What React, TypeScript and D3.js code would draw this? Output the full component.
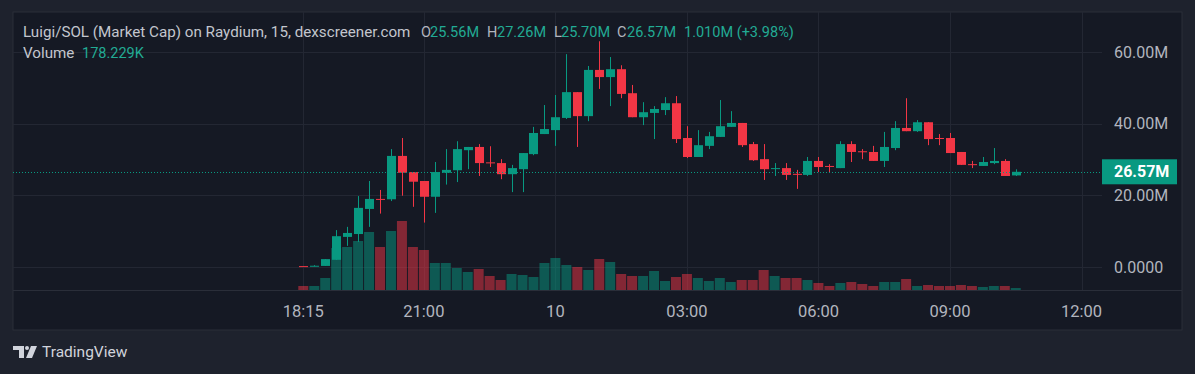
import React from 'react';
import * as d3 from 'd3';

// 15 minute candles, market cap in millions
const opens = [0.25, 0.2, 0.3, 2.0, 8.4, 9.2, 16.2, 19.0, 18.9, 31.0, 26.5, 24.0, 19.6, 26.3, 27.0, 32.6, 33.5, 29.2, 29.0, 25.9,
  27.3, 31.5, 37.1, 38.2, 41.6, 48.8, 42.1, 55.0, 53.0, 55.2, 48.5, 41.8, 43.0, 43.8, 45.7, 36.0, 30.7, 33.8, 36.3, 39.1,
  40.2, 34.3, 30.1, 27.5, 27.6, 26.0, 25.7, 29.6, 28.2, 27.6, 34.3, 32.3, 32.1, 29.6, 33.2, 38.8, 37.9, 40.4, 36.0, 36.0,
  32.1, 28.7, 28.2, 29.0, 29.6, 25.56];
const highs = [0.25, 0.5, 2.2, 10.3, 11.2, 19.8, 24.0, 21.5, 32.9, 36.0, 26.5, 24.0, 29.3, 32.9, 35.1, 33.5, 34.3, 33.7, 30.1, 28.5,
  31.8, 39.1, 45.2, 48.0, 59.4, 48.8, 56.1, 63.0, 58.6, 56.3, 50.8, 46.0, 44.9, 47.4, 47.7, 39.3, 38.2, 37.7, 46.6, 43.5,
  40.2, 34.9, 34.3, 29.0, 29.0, 27.1, 30.7, 30.7, 28.7, 35.1, 35.1, 32.9, 33.8, 37.7, 40.7, 47.1, 41.0, 40.4, 37.1, 37.4,
  32.1, 29.6, 30.7, 33.2, 30.1, 27.26];
const lows = [0.2, 0.2, 0.3, 1.95, 5.9, 7.0, 11.2, 14.9, 18.4, 19.9, 16.8, 12.4, 15.1, 23.0, 23.7, 27.3, 25.4, 27.9, 24.5, 20.9,
  20.9, 31.2, 37.1, 33.8, 41.3, 33.5, 40.7, 49.7, 44.9, 47.1, 41.8, 39.6, 35.7, 42.4, 34.6, 30.4, 30.7, 32.9, 36.3, 39.1,
  33.5, 29.6, 24.3, 25.4, 24.3, 21.8, 25.4, 26.5, 26.5, 27.6, 29.3, 30.1, 29.6, 27.9, 32.6, 37.9, 37.7, 34.0, 34.0, 31.8,
  28.5, 27.6, 28.2, 28.7, 25.4, 25.4];
const closes = [0.2, 0.35, 2.2, 8.6, 9.5, 16.5, 19.0, 18.9, 31.0, 26.3, 23.8, 19.6, 26.5, 27.1, 32.9, 33.5, 29.0, 29.0, 25.9, 27.6,
  31.8, 37.4, 38.5, 41.8, 48.8, 42.1, 55.0, 53.0, 55.2, 48.3, 41.8, 43.2, 44.1, 45.7, 35.7, 30.7, 34.0, 36.5, 39.3, 40.2,
  34.0, 29.8, 27.3, 27.6, 25.7, 25.9, 29.6, 27.9, 28.0, 34.3, 32.1, 32.1, 29.6, 33.5, 38.8, 37.9, 40.4, 35.7, 35.8, 31.8,
  28.5, 28.5, 29.3, 29.6, 25.4, 26.57];
// volume in K
const volumes = [360, 360, 1080, 3780, 3870, 4410, 5220, 3870, 5310, 6210, 3870, 3600, 2430, 2430, 1980, 1620, 1890, 1260, 900, 1440,
  1350, 1170, 2430, 2880, 2250, 2070, 1800, 2790, 2520, 1440, 1260, 1260, 1710, 810, 1170, 1440, 1080, 810, 1080, 720,
  900, 900, 1800, 1260, 1080, 1080, 900, 630, 360, 630, 720, 540, 360, 720, 720, 990, 360, 450, 360, 360,
  450, 360, 270, 360, 360, 178.229];

const firstCandle = new Date(2024, 5, 9, 18, 15);
const timeTicks = [new Date(2024, 5, 9, 18, 15), new Date(2024, 5, 9, 21, 0), new Date(2024, 5, 10, 0, 0),
  new Date(2024, 5, 10, 3, 0), new Date(2024, 5, 10, 6, 0), new Date(2024, 5, 10, 9, 0), new Date(2024, 5, 10, 12, 0)];
const timeLabels = ['18:15', '21:00', '10', '03:00', '06:00', '09:00', '12:00'];
const priceTicks = [0, 20, 40, 60];
const priceLabels = ['0.0000', '20.00M', '40.00M', '60.00M'];

const UP = '#089981';
const DOWN = '#f23645';
const FONT = 'Roboto, sans-serif';

const App = () => {
  const W = 1195, H = 374;
  const plotLeft = 13, plotRight = 1102, plotTop = 12, plotBottom = 290, axisRight = 1182, frameBottom = 330;

  const times = opens.map((_, i) => d3.timeMinute.offset(firstCandle, 15 * i));
  const x = d3.scaleTime()
    .domain([timeTicks[0], timeTicks[6]])
    .range([303.3, 1081.5]);
  const y = d3.scaleLinear().domain([0, 60]).range([267, 52]);
  const yVol = d3.scaleLinear().domain([0, 6210]).range([plotBottom, 221]);

  const bodyW = 9, volW = 10;
  const last = closes[closes.length - 1];
  const lastY = y(last);

  return (
    <svg width={W} height={H} style={{ position: 'fixed', left: 0, top: 0, display: 'block' }} fontFamily={FONT}>
      <rect width={W} height={H} fill="#1e222d" />
      <rect x={plotLeft} y={plotTop} width={axisRight - plotLeft} height={frameBottom - plotTop} fill="#151924" stroke="#2a2e39" />
      <defs>
        <clipPath id="plot"><rect x={plotLeft} y={plotTop} width={plotRight - plotLeft} height={plotBottom - plotTop} /></clipPath>
        <clipPath id="taxis"><rect x={plotLeft} y={plotBottom} width={plotRight - plotLeft} height={frameBottom - plotBottom} /></clipPath>
      </defs>

      {/* grid */}
      {priceTicks.map(t => (
        <line key={'h' + t} x1={plotLeft} x2={plotRight} y1={Math.round(y(t)) + 0.5} y2={Math.round(y(t)) + 0.5} stroke="#232733" />
      ))}
      {timeTicks.map((t, i) => (
        <line key={'v' + i} x1={Math.round(x(t)) + 0.5} x2={Math.round(x(t)) + 0.5} y1={plotTop} y2={plotBottom} stroke="#232733" />
      ))}
      <line x1={plotLeft} x2={axisRight} y1={plotBottom + 0.5} y2={plotBottom + 0.5} stroke="#2a2e39" />

      <g clipPath="url(#plot)">
        {/* volume */}
        {volumes.map((v, i) => (
          <rect key={'vol' + i} x={x(times[i]) - volW / 2} y={yVol(v)} width={volW} height={plotBottom - yVol(v)}
            fill={closes[i] >= opens[i] ? 'rgba(8,153,129,0.5)' : 'rgba(242,54,69,0.5)'} />
        ))}
        {/* candles */}
        {opens.map((o, i) => {
          const c = closes[i];
          const col = c >= o ? UP : DOWN;
          const cx = Math.round(x(times[i])) + 0.5;
          const top = y(Math.max(o, c));
          const h = Math.max(1, y(Math.min(o, c)) - top);
          return (
            <g key={'c' + i}>
              <line x1={cx} x2={cx} y1={y(highs[i])} y2={y(lows[i])} stroke={col} />
              <rect x={cx - bodyW / 2} y={top} width={bodyW} height={h} fill={col} />
            </g>
          );
        })}
        <line x1={plotLeft} x2={plotRight} y1={Math.round(lastY) + 0.5} y2={Math.round(lastY) + 0.5} stroke={UP} strokeDasharray="1 2" />
      </g>

      {/* price axis */}
      {priceTicks.map((t, i) => (
        <text key={'pl' + t} x={1114} y={y(t)} dy="0.35em" fill="#b2b5be" fontSize={16}>{priceLabels[i]}</text>
      ))}
      <rect x={plotRight} y={lastY - 12.5} width={75} height={25} fill={UP} />
      <text x={1114} y={lastY} dy="0.35em" fill="#ffffff" fontSize={16} fontWeight="bold">{last.toFixed(2) + 'M'}</text>

      {/* time axis */}
      <g clipPath="url(#taxis)">
        {timeTicks.map((t, i) => (
          <text key={'tl' + i} x={x(t)} y={311} dy="0.35em" textAnchor="middle" fill="#b2b5be" fontSize={16.5}>{timeLabels[i]}</text>
        ))}
      </g>

      {/* legend */}
      <g fontSize={14.5} fill="#b2b5be">
        <text x={23} y={32} dy="0.35em" fill="#c3c6ce" fontSize={15.2}>Luigi/SOL (Market Cap) on Raydium, 15, dexscreener.com</text>
        <text x={421} y={32} dy="0.35em">O</text>
        <text x={430} y={32} dy="0.35em" fill="#22ab94">25.56M</text>
        <text x={487} y={32} dy="0.35em">H</text>
        <text x={497} y={32} dy="0.35em" fill="#22ab94">27.26M</text>
        <text x={554} y={32} dy="0.35em">L</text>
        <text x={561} y={32} dy="0.35em" fill="#22ab94">25.70M</text>
        <text x={617} y={32} dy="0.35em">C</text>
        <text x={627} y={32} dy="0.35em" fill="#22ab94">26.57M</text>
        <text x={684} y={32} dy="0.35em" fill="#22ab94">1.010M (+3.98%)</text>
        <text x={23} y={53} dy="0.35em" fill="#c3c6ce" fontSize={15.2}>Volume</text>
        <text x={82} y={53} dy="0.35em" fill="#22ab94">178.229K</text>
      </g>

      {/* TradingView logo */}
      <g fill="#d1d4dc">
        <path d="M13 346h11v12h-5v-8h-6z" />
        <circle cx={27} cy={348} r={2} />
        <path d="M31 346h6l-5 12h-6z" />
        <text x={42} y={352} dy="0.35em" fontSize={15.5}>TradingView</text>
      </g>
    </svg>
  );
};

export default App;
